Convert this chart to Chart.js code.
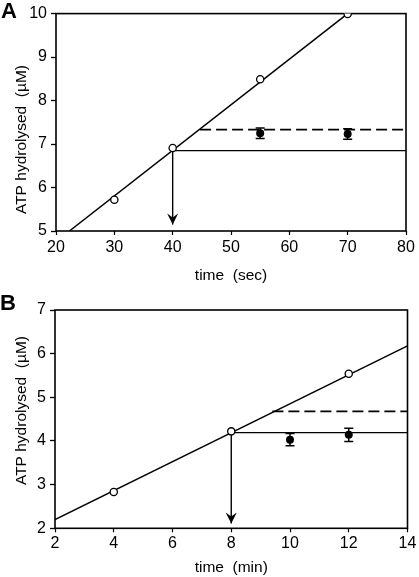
<!DOCTYPE html>
<html>
<head>
<meta charset="utf-8">
<script src="https://cdn.jsdelivr.net/npm/chart.js@4.4.0/dist/chart.umd.min.js"></script>
<style>
  body { margin: 0; background: #fff; }
  #wrap { position: relative; width: 419px; height: 577px; }
  canvas { position: absolute; left: 0; }
  .panel { position: absolute; font: bold 22px "Liberation Sans", Arial, sans-serif; color: #000; }
</style>
</head>
<body>
<div id="wrap">
  <canvas id="chartA" width="419" height="290" style="top:0"></canvas>
  <canvas id="chartB" width="419" height="287" style="top:290px"></canvas>
  <div class="panel" style="left:1px; top:-2px">A</div>
  <div class="panel" style="left:0; top:290px">B</div>
</div>
<script>
// Panel A - time in sec
const aOpenT = [30, 40, 55, 70];
const aOpenY = [5.72, 6.91, 8.49, 9.99];
const aFilledT = [55, 70];
const aFilledY = [7.25, 7.23];
const aFilledErr = [0.12, 0.12];
const aFitT = [22.3, 70];
const aFitY = [5, 10];
const aPlateauT = [40, 80];
const aPlateauY = [6.85, 6.85];
const aDashT = [44.7, 80];
const aDashY = [7.33, 7.33];
const aArrowT = [40, 40];
const aArrowY = [6.85, 5.15];

// Panel B - time in min
const bOpenT = [4, 8, 12];
const bOpenY = [2.83, 4.22, 5.54];
const bFilledT = [10, 12];
const bFilledY = [4.03, 4.14];
const bFilledErr = [0.14, 0.15];
const bFitT = [2, 14];
const bFitY = [2.2, 6.18];
const bPlateauT = [8, 14];
const bPlateauY = [4.19, 4.19];
const bDashT = [9.4, 14];
const bDashY = [4.68, 4.68];
const bArrowT = [8, 8];
const bArrowY = [4.19, 2.11];

const FONT = '"Liberation Sans", Arial, sans-serif';

const pts = (xs, ys) => xs.map((x, i) => ({ x: x, y: ys[i] }));

function lineDs(xs, ys, extra) {
  return Object.assign({
    data: pts(xs, ys),
    borderColor: '#000',
    borderWidth: 1.5,
    pointRadius: 0,
    fill: false,
    tension: 0
  }, extra);
}

// box round the plot area
const framePlugin = {
  id: 'frame',
  beforeDatasetsDraw(chart) {
    const a = chart.chartArea, c = chart.ctx;
    c.save();
    c.strokeStyle = '#000';
    c.lineWidth = 1.6;
    c.strokeRect(a.left, a.top, a.right - a.left, a.bottom - a.top);
    c.restore();
  }
};

// arrow heads and error bars
const extrasPlugin = {
  id: 'extras',
  afterDatasetsDraw(chart) {
    const c = chart.ctx;
    chart.data.datasets.forEach((ds, i) => {
      const meta = chart.getDatasetMeta(i);
      if (ds.arrow) {
        const tip = meta.data[meta.data.length - 1];
        c.save();
        c.fillStyle = '#000';
        c.beginPath();
        c.moveTo(tip.x, tip.y);
        c.lineTo(tip.x - 5.5, tip.y - 11);
        c.lineTo(tip.x, tip.y - 7);
        c.lineTo(tip.x + 5.5, tip.y - 11);
        c.closePath();
        c.fill();
        c.restore();
      }
      if (ds.errors) {
        const yScale = chart.scales.y;
        c.save();
        c.strokeStyle = '#000';
        c.lineWidth = 1.5;
        meta.data.forEach((p, j) => {
          const v = ds.data[j].y, e = ds.errors[j];
          const top = yScale.getPixelForValue(v + e);
          const bot = yScale.getPixelForValue(v - e);
          c.beginPath();
          c.moveTo(p.x, top); c.lineTo(p.x, bot);
          c.moveTo(p.x - 4.5, top); c.lineTo(p.x + 4.5, top);
          c.moveTo(p.x - 4.5, bot); c.lineTo(p.x + 4.5, bot);
          c.stroke();
        });
        c.restore();
      }
    });
  }
};

function makeChart(id, p) {
  const datasets = [
    lineDs(p.filledT, p.filledY, { showLine: false, pointRadius: 4, pointBackgroundColor: '#000', pointBorderWidth: 0, errors: p.err }),
    lineDs(p.openT, p.openY, { showLine: false, pointRadius: 3.6, pointBackgroundColor: '#fff', pointBorderColor: '#000', pointBorderWidth: 1.3 }),
    lineDs(p.arrowT, p.arrowY, { borderWidth: 1.4, arrow: true }),
    lineDs(p.fitT, p.fitY, { borderWidth: 1.5 }),
    lineDs(p.plateauT, p.plateauY, { borderWidth: 1.2 }),
    lineDs(p.dashT, p.dashY, { borderWidth: 1.8, borderDash: [11, 5] })
  ];

  return new Chart(document.getElementById(id), {
    type: 'line',
    data: { datasets: datasets },
    plugins: [framePlugin, extrasPlugin],
    options: {
      responsive: false,
      animation: false,
      events: [],
      layout: { padding: { left: 0, right: p.padRight, top: p.padTop, bottom: 0 } },
      plugins: { legend: { display: false }, tooltip: { enabled: false } },
      scales: {
        x: {
          type: 'linear',
          min: p.xMin, max: p.xMax,
          afterFit: s => { s.height = p.xAxisH; },
          border: { display: false },
          grid: { drawOnChartArea: false, drawTicks: true, tickLength: 4, tickColor: '#000', tickWidth: 1.2 },
          ticks: { stepSize: p.xStep, color: '#000', padding: p.xTickPad, maxRotation: 0, font: { family: FONT, size: 16 } },
          title: { display: true, text: p.xTitle, color: '#000', padding: { top: 0, bottom: p.xTitlePad }, font: { family: FONT, size: 15.5 } }
        },
        y: {
          min: p.yMin, max: p.yMax,
          afterFit: s => { s.width = p.yAxisW; },
          border: { display: false },
          grid: {
            drawOnChartArea: false, drawTicks: true, tickLength: 5, tickColor: '#000',
            tickWidth: ctx => Number.isInteger(ctx.tick.value) ? 1.3 : 0.9
          },
          ticks: {
            stepSize: 0.5, color: '#000', padding: 4, font: { family: FONT, size: 16 },
            callback: v => Number.isInteger(v) ? v : ''
          },
          title: { display: true, text: p.yTitle, color: '#000', padding: { top: 12, bottom: 0 }, font: { family: FONT, size: 15.5 } }
        }
      }
    }
  });
}

makeChart('chartA', {
  openT: aOpenT, openY: aOpenY, filledT: aFilledT, filledY: aFilledY, err: aFilledErr,
  fitT: aFitT, fitY: aFitY, plateauT: aPlateauT, plateauY: aPlateauY,
  dashT: aDashT, dashY: aDashY, arrowT: aArrowT, arrowY: aArrowY,
  xMin: 20, xMax: 80, xStep: 10, yMin: 5, yMax: 10,
  xTitle: 'time  (sec)', yTitle: 'ATP hydrolysed  (\u00b5M)' + '        ',
  padRight: 13, padTop: 12, yAxisW: 56, xAxisH: 59, xTickPad: 3, xTitlePad: 5
});

makeChart('chartB', {
  openT: bOpenT, openY: bOpenY, filledT: bFilledT, filledY: bFilledY, err: bFilledErr,
  fitT: bFitT, fitY: bFitY, plateauT: bPlateauT, plateauY: bPlateauY,
  dashT: bDashT, dashY: bDashY, arrowT: bArrowT, arrowY: bArrowY,
  xMin: 2, xMax: 14, xStep: 2, yMin: 2, yMax: 7,
  xTitle: 'time  (min)', yTitle: '    ' + 'ATP hydrolysed  (\u00b5M)',
  padRight: 11.5, padTop: 20, yAxisW: 55, xAxisH: 48.7, xTickPad: 2, xTitlePad: 0
});
</script>
</body>
</html>
